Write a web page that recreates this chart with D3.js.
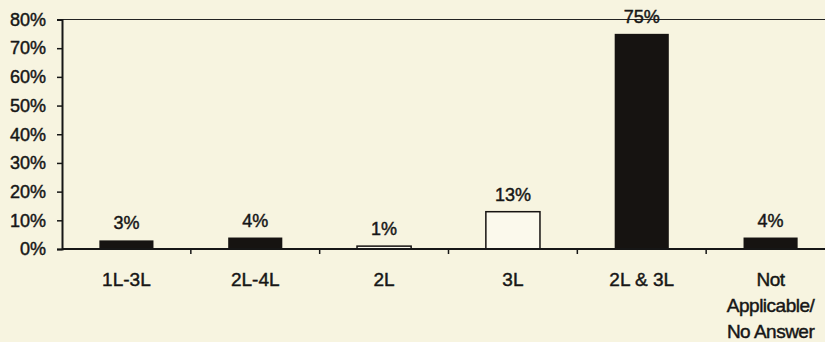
<!DOCTYPE html>
<html>
<head>
<meta charset="utf-8">
<script src="https://cdn.jsdelivr.net/npm/d3@7"></script>
<style>
  html, body { margin: 0; padding: 0; background: #f7f4e0; }
  svg { display: block; }
  text { font-family: "Liberation Sans", Arial, Helvetica, sans-serif; fill: #161616; stroke: #161616; stroke-width: 0.45px; }
</style>
</head>
<body>
<svg id="chart" width="825" height="342"></svg>
<script>
// Response categories (multi-line labels split on "|")
const categories = ["1L-3L", "2L-4L", "2L", "3L", "2L & 3L", "Not|Applicable/|No Answer"];
// Share of responses, percent
const values = [3, 4, 1, 13, 75, 4];
// Which bars are drawn hollow
const hollow = [false, false, true, true, false, false];
// Y axis tick values, percent
const yTicks = [0, 10, 20, 30, 40, 50, 60, 70, 80];

(function draw() {
  const svg = d3.select("#chart");
  const mLeft = 62, mRight = 835, mTop = 19.5, mBottom = 249;

  const x = d3.scaleBand().domain(categories).range([mLeft, mRight]).padding(0);
  const y = d3.scaleLinear().domain([0, 80]).range([mBottom, mTop]);
  const barW = x.bandwidth() * 0.42;

  // Plot frame top edge
  svg.append("line")
    .attr("x1", mLeft).attr("x2", mRight)
    .attr("y1", mTop).attr("y2", mTop)
    .attr("stroke", "#222").attr("stroke-width", 1.2);

  // Bars
  svg.append("g").selectAll("rect")
    .data(values)
    .join("rect")
    .attr("x", (d, i) => x(categories[i]) + (x.bandwidth() - barW) / 2)
    .attr("y", d => y(d))
    .attr("width", barW)
    .attr("height", d => mBottom - y(d))
    .attr("fill", (d, i) => hollow[i] ? "#fbf9ec" : "#161311")
    .attr("stroke", "#161311")
    .attr("stroke-width", (d, i) => hollow[i] ? 1.5 : 0);

  // Value labels
  svg.append("g").selectAll("text")
    .data(values)
    .join("text")
    .attr("x", (d, i) => x(categories[i]) + x.bandwidth() / 2)
    .attr("y", d => y(d) - 11)
    .attr("text-anchor", "middle")
    .attr("font-size", 18)
    .text(d => d + "%");

  // Y axis
  const yAxis = svg.append("g")
    .attr("transform", `translate(${mLeft},0)`)
    .call(d3.axisLeft(y).tickValues(yTicks).tickSize(5).tickPadding(11).tickFormat(d => d + "%"));
  yAxis.select(".domain").attr("stroke", "#161616").attr("stroke-width", 2);
  yAxis.selectAll(".tick line").attr("stroke", "#161616").attr("stroke-width", 1.5);
  yAxis.selectAll(".tick text")
    .attr("font-size", 18)
    .attr("font-family", "Liberation Sans, Arial, sans-serif")
    .attr("fill", "#161616");

  // X axis: ticks at category boundaries
  const xBounds = categories.map(c => x(c)).concat([mRight]);
  const xAxisG = svg.append("g");
  xAxisG.append("line")
    .attr("x1", mLeft).attr("x2", mRight)
    .attr("y1", mBottom).attr("y2", mBottom)
    .attr("stroke", "#161616").attr("stroke-width", 2);
  xAxisG.selectAll("line.tick")
    .data(xBounds.slice(1))
    .join("line")
    .attr("class", "tick")
    .attr("x1", d => d).attr("x2", d => d)
    .attr("y1", mBottom).attr("y2", mBottom + 5)
    .attr("stroke", "#161616").attr("stroke-width", 1.5);

  // Category labels
  const catG = svg.append("g").selectAll("text")
    .data(categories)
    .join("text")
    .attr("x", d => x(d) + x.bandwidth() / 2)
    .attr("y", 286)
    .attr("text-anchor", "middle")
    .attr("font-size", 19)
    .attr("letter-spacing", d => d.includes("|") ? -0.5 : 0);
  catG.each(function(d) {
    const lines = d.split("|");
    d3.select(this).selectAll("tspan")
      .data(lines)
      .join("tspan")
      .attr("x", x(d) + x.bandwidth() / 2)
      .attr("dy", (l, j) => j === 0 ? 0 : 26)
      .text(l => l);
  });
})();
</script>
</body>
</html>
